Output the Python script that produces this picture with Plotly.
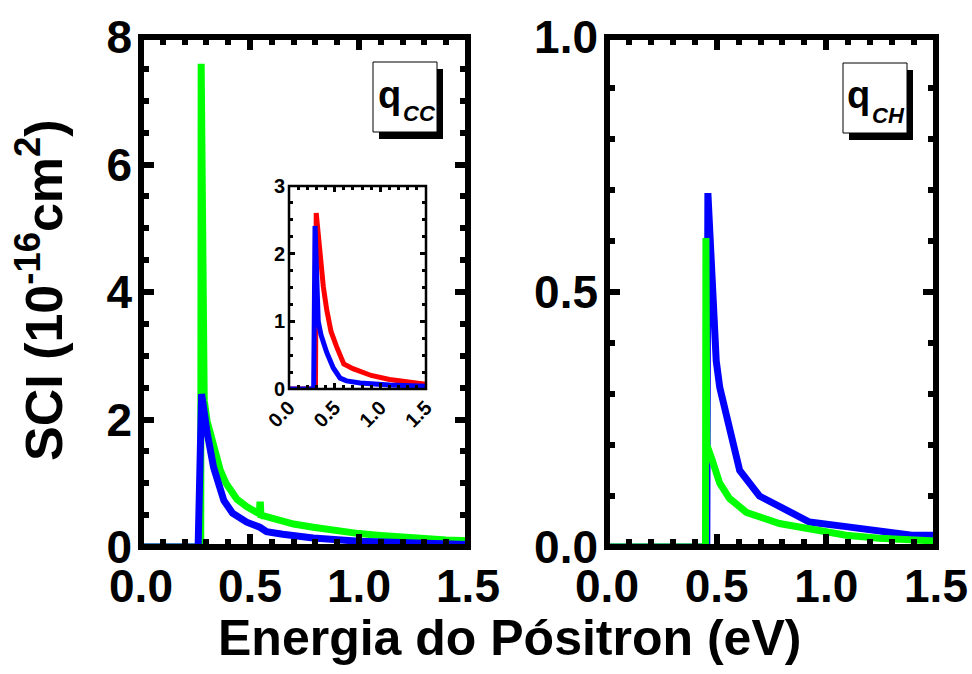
import plotly.graph_objects as go

# ---------------- data ----------------
# left panel (q_CC)
cc_green_e = [0, 0.274, 0.276, 0.282, 0.29, 0.303, 0.318, 0.333, 0.364, 0.39, 0.41, 0.44, 0.486, 0.52,
              0.543, 0.545, 0.548, 0.55, 0.6, 0.636, 0.7, 0.79, 0.9, 1.0, 1.1, 1.2, 1.3, 1.4, 1.5]
cc_green_v = [0, 0, 7.58, 2.7, 2.3, 1.98, 1.8, 1.52, 1.2, 1.0, 0.89, 0.75, 0.63, 0.55,
              0.52, 0.66, 0.66, 0.5, 0.45, 0.42, 0.36, 0.31, 0.25, 0.21, 0.18, 0.15, 0.13, 0.11, 0.1]
cc_blue_e = [0, 0.262, 0.278, 0.29, 0.303, 0.333, 0.38, 0.42, 0.485, 0.545, 0.576, 0.65, 0.79, 1.0, 1.2, 1.5]
cc_blue_v = [0, 0, 2.4, 2.1, 1.8, 1.25, 0.73, 0.53, 0.39, 0.31, 0.24, 0.2, 0.14, 0.09, 0.06, 0.04]

# inset (q_CC, zoom)
in_red_e = [0, 0.29, 0.298, 0.34, 0.376, 0.413, 0.46, 0.52, 0.56, 0.575, 0.6, 0.7, 0.78, 0.9, 1.1, 1.3, 1.5]
in_red_v = [0, 0, 2.6, 2.0, 1.51, 1.17, 0.85, 0.63, 0.48, 0.42, 0.37, 0.3, 0.26, 0.2, 0.14, 0.1, 0.07]
in_blue_e = [0, 0.27, 0.285, 0.3, 0.32, 0.35, 0.413, 0.485, 0.54, 0.56, 0.63, 0.78, 1.1, 1.5]
in_blue_v = [0, 0, 2.41, 1.9, 1.0, 0.8, 0.54, 0.31, 0.2, 0.16, 0.12, 0.09, 0.06, 0.04]

# right panel (q_CH)
ch_green_e = [0, 0.449, 0.451, 0.455, 0.476, 0.514, 0.559, 0.635, 0.786, 0.938, 1.09, 1.24, 1.39, 1.5]
ch_green_v = [0, 0, 0.606, 0.2, 0.175, 0.125, 0.095, 0.068, 0.046, 0.033, 0.023, 0.017, 0.014, 0.012]
ch_blue_e = [0, 0.455, 0.46, 0.483, 0.498, 0.514, 0.559, 0.605, 0.695, 0.786, 0.923, 1.09, 1.24, 1.39, 1.5]
ch_blue_v = [0, 0, 0.694, 0.495, 0.365, 0.313, 0.235, 0.15, 0.1, 0.079, 0.049, 0.04, 0.033, 0.023, 0.023]

x_ticks = [0.0, 0.5, 1.0, 1.5]
x_ticklabels = ["0.0", "0.5", "1.0", "1.5"]
cc_yticks = [0, 2, 4, 6, 8]
ch_yticks = [0.0, 0.5, 1.0]
ch_yticklabels = ["0.0", "0.5", "1.0"]
in_yticks = [0, 1, 2, 3]

GREEN = "#00ff00"
BLUE = "#0000ff"
RED = "#ff0000"
FONT = "Liberation Sans"

W, H = 972, 674


def px(x):
    return x / W


def py(y):
    return 1 - y / H


fig = go.Figure()

# left panel: green then blue on top
fig.add_trace(go.Scatter(x=cc_green_e, y=cc_green_v, mode="lines", line=dict(color=GREEN, width=7),
                         xaxis="x", yaxis="y", showlegend=False))
fig.add_trace(go.Scatter(x=cc_blue_e, y=cc_blue_v, mode="lines", line=dict(color=BLUE, width=7),
                         xaxis="x", yaxis="y", showlegend=False))
# right panel: blue then green on top
fig.add_trace(go.Scatter(x=ch_blue_e, y=ch_blue_v, mode="lines", line=dict(color=BLUE, width=7),
                         xaxis="x2", yaxis="y2", showlegend=False))
fig.add_trace(go.Scatter(x=ch_green_e, y=ch_green_v, mode="lines", line=dict(color=GREEN, width=7),
                         xaxis="x2", yaxis="y2", showlegend=False))
# inset
fig.add_trace(go.Scatter(x=in_red_e, y=in_red_v, mode="lines", line=dict(color=RED, width=5),
                         xaxis="x3", yaxis="y3", showlegend=False))
fig.add_trace(go.Scatter(x=in_blue_e, y=in_blue_v, mode="lines", line=dict(color=BLUE, width=5),
                         xaxis="x3", yaxis="y3", showlegend=False))

big_font = dict(family=FONT, size=46, color="black", weight="bold")
small_font = dict(family=FONT, size=20, color="black", weight="bold")


def axis(domain, anchor, rng, tickvals, ticktext, minor_dtick, font, ticklen, tickwidth,
         mlen, mwidth, standoff, **kw):
    d = dict(domain=domain, anchor=anchor, range=rng, tickmode="array", tickvals=tickvals,
             ticks="inside", ticklen=ticklen, tickwidth=tickwidth, tickcolor="black",
             mirror="allticks", showline=False, showgrid=False, zeroline=False, automargin=False,
             minor=dict(dtick=minor_dtick, tick0=0, ticks="inside", ticklen=mlen, tickwidth=mwidth,
                        tickcolor="black", showgrid=False),
             tickfont=font, ticklabelstandoff=standoff)
    if ticktext is not None:
        d["ticktext"] = ticktext
    d.update(kw)
    return d


L = [141, 468]
R = [607, 936]
T, B = 37, 547

fig.update_layout(
    width=W, height=H, margin=dict(l=0, r=0, t=0, b=0, autoexpand=False),
    paper_bgcolor="white", plot_bgcolor="white",
    xaxis=axis([px(L[0]), px(L[1])], "y", [0, 1.5], x_ticks, x_ticklabels, 0.1, big_font, 13, 6, 8, 6, 8),
    yaxis=axis([py(B), py(T)], "x", [0, 8], cc_yticks, None, 0.5, big_font, 13, 6, 8, 6, 8),
    xaxis2=axis([px(R[0]), px(R[1])], "y2", [0, 1.5], x_ticks, x_ticklabels, 0.1, big_font, 13, 6, 8, 6, 8),
    yaxis2=axis([py(B), py(T)], "x2", [0, 1.0], ch_yticks, ch_yticklabels, 0.1, big_font, 13, 6, 8, 6, 8),
    xaxis3=axis([px(289), px(426)], "y3", [0, 1.5], x_ticks, x_ticklabels, 0.1, small_font, 6, 2.5, 4, 3, 2,
                tickangle=-45),
    yaxis3=axis([py(389), py(186)], "x3", [0, 3], in_yticks, None, 0.25, small_font, 6, 2.5, 4, 3, 3),
)

shapes = []
# frames
for xr, yr, lw in (("x domain", "y domain", 6), ("x2 domain", "y2 domain", 6), ("x3 domain", "y3 domain", 2.5)):
    shapes.append(dict(type="rect", xref=xr, yref=yr, x0=0, x1=1, y0=0, y1=1,
                       line=dict(color="black", width=lw), layer="above"))

# label boxes with shadows
for (bx0, by0, bx1, by1) in ((373, 62, 437, 132), (843, 63, 907, 133)):
    shapes.append(dict(type="rect", xref="paper", yref="paper", x0=px(bx0 + 6), x1=px(bx1 + 6),
                       y0=py(by1 + 7), y1=py(by0 + 7), fillcolor="black", line=dict(width=0), layer="above"))
    shapes.append(dict(type="rect", xref="paper", yref="paper", x0=px(bx0), x1=px(bx1),
                       y0=py(by1), y1=py(by0), fillcolor="white", line=dict(color="black", width=1),
                       layer="above"))
fig.update_layout(shapes=shapes)

ann = []
ann.append(dict(text="q", x=px(389), y=py(95), xref="paper", yref="paper", showarrow=False,
                font=dict(family=FONT, size=38, color="black", weight="bold"), xanchor="center", yanchor="middle"))
ann.append(dict(text="<i>CC</i>", x=px(419), y=py(114), xref="paper", yref="paper", showarrow=False,
                font=dict(family=FONT, size=22, color="black", weight="bold"), xanchor="center", yanchor="middle"))
ann.append(dict(text="q", x=px(858), y=py(95), xref="paper", yref="paper", showarrow=False,
                font=dict(family=FONT, size=38, color="black", weight="bold"), xanchor="center", yanchor="middle"))
ann.append(dict(text="<i>CH</i>", x=px(888), y=py(115), xref="paper", yref="paper", showarrow=False,
                font=dict(family=FONT, size=22, color="black", weight="bold"), xanchor="center", yanchor="middle"))
# axis titles
ann.append(dict(text="Energia do Pósitron (eV)", x=px(509), y=py(638), xref="paper", yref="paper",
                showarrow=False, font=dict(family=FONT, size=50, color="black", weight="bold"),
                xanchor="center", yanchor="middle"))
ann.append(dict(text="SCI (10<sup>-16</sup>cm<sup>2</sup>)", x=px(40), y=py(290), xref="paper", yref="paper",
                showarrow=False, textangle=-90, font=dict(family=FONT, size=52, color="black", weight="bold"),
                xanchor="center", yanchor="middle"))
fig.update_layout(annotations=ann)

fig.write_html("out.html")
